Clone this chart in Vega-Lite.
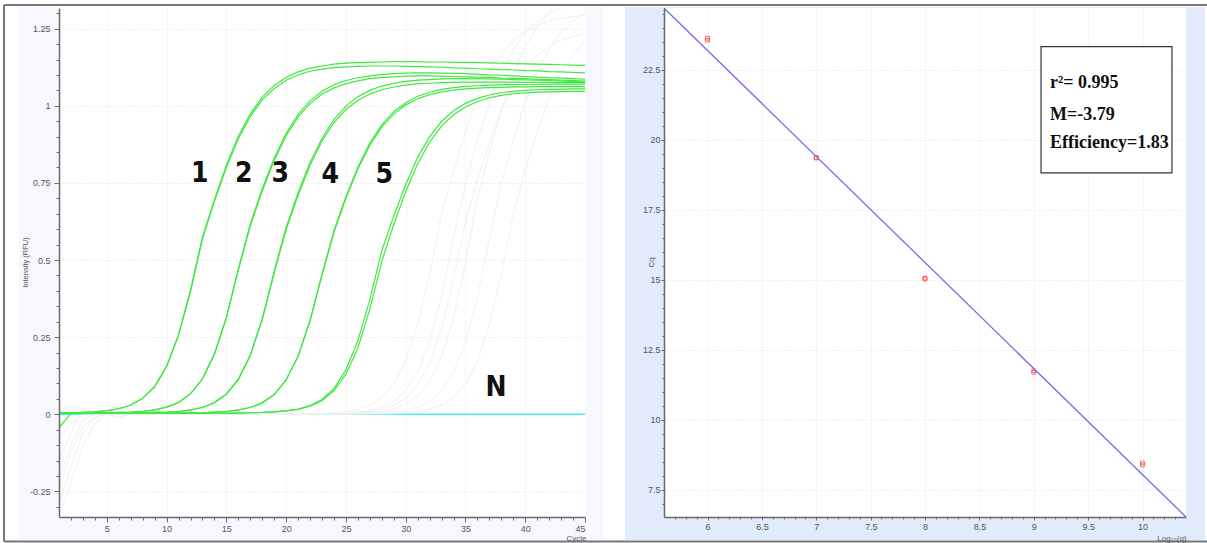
{
"$schema": "https://vega.github.io/schema/vega-lite/v6.json",
"padding": {"left": 3, "top": 4, "right": 0, "bottom": 0},
"background": "white",
"bounds": "flush",
"spacing": 79,
"config": {
 "view": {"stroke": null},
 "axis": {"labelFont": "Liberation Sans", "labelFontSize": 9, "labelColor": "#555555", "titleFont": "Liberation Sans", "titleFontSize": 8, "titleFontWeight": "normal", "titleColor": "#555555", "domainColor": "#6a6a6a", "domainWidth": 1.5, "tickColor": "#6a6a6a", "gridColor": "#e2e2e2", "gridDash": [1, 2]}
},
"datasets": {
 "one": [{}],
 "amp": [
  {"cycle":1,"G1a":0.005,"G1b":-0.043,"G2a":0.004,"G2b":0.004,"G3a":0.004,"G3b":0.004,"G4a":0.004,"G4b":0.004,"G5a":0.004,"G5b":0.004,"F1":-0.29,"F2":-0.21,"F3":-0.15,"F4":-0.33,"F5":-0.08,"F6":-0.25,"N":0},
  {"cycle":2,"G1a":0.005,"G1b":0.002,"G2a":0.004,"G2b":0.004,"G3a":0.004,"G3b":0.004,"G4a":0.004,"G4b":0.004,"G5a":0.004,"G5b":0.004,"F1":-0.17,"F2":-0.10,"F3":-0.06,"F4":-0.22,"F5":-0.03,"F6":-0.12,"N":0},
  {"cycle":3,"G1a":0.006,"G1b":0.006,"G2a":0.004,"G2b":0.004,"G3a":0.004,"G3b":0.004,"G4a":0.004,"G4b":0.004,"G5a":0.004,"G5b":0.004,"F1":-0.06,"F2":-0.02,"F3":0.02,"F4":-0.10,"F5":0,"F6":-0.04,"N":0},
  {"cycle":4,"G1a":0.008,"G1b":0.008,"G2a":0.004,"G2b":0.004,"G3a":0.004,"G3b":0.004,"G4a":0.004,"G4b":0.004,"G5a":0.004,"G5b":0.004,"F1":-0.01,"F2":0,"F3":0.005,"F4":-0.03,"F5":0.001,"F6":-0.01,"N":0},
  {"cycle":5,"G1a":0.012,"G1b":0.012,"G2a":0.005,"G2b":0.005,"G3a":0.004,"G3b":0.004,"G4a":0.004,"G4b":0.004,"G5a":0.004,"G5b":0.004,"F1":0,"F2":0.001,"F3":0.001,"F4":0,"F5":0.001,"F6":0.001,"N":0},
  {"cycle":6,"G1a":0.018,"G1b":0.018,"G2a":0.006,"G2b":0.006,"G3a":0.004,"G3b":0.004,"G4a":0.004,"G4b":0.004,"G5a":0.004,"G5b":0.004,"F1":-0.01,"F2":0.001,"F3":0.001,"F4":0.001,"F5":0.001,"F6":0.001,"N":0},
  {"cycle":7,"G1a":0.030,"G1b":0.030,"G2a":0.007,"G2b":0.007,"G3a":0.004,"G3b":0.004,"G4a":0.004,"G4b":0.004,"G5a":0.004,"G5b":0.004,"F1":0,"F2":0.001,"F3":0.001,"F4":0.001,"F5":0.001,"F6":0.001,"N":0},
  {"cycle":8,"G1a":0.052,"G1b":0.052,"G2a":0.009,"G2b":0.009,"G3a":0.005,"G3b":0.005,"G4a":0.004,"G4b":0.004,"G5a":0.004,"G5b":0.004,"F1":0.001,"F2":0.001,"F3":0.001,"F4":0.001,"F5":0.001,"F6":0.001,"N":0},
  {"cycle":9,"G1a":0.090,"G1b":0.089,"G2a":0.014,"G2b":0.014,"G3a":0.006,"G3b":0.006,"G4a":0.004,"G4b":0.004,"G5a":0.004,"G5b":0.004,"F1":0.001,"F2":0.001,"F3":0.001,"F4":0.001,"F5":0.001,"F6":0.001,"N":0},
  {"cycle":10,"G1a":0.156,"G1b":0.154,"G2a":0.023,"G2b":0.023,"G3a":0.007,"G3b":0.007,"G4a":0.004,"G4b":0.004,"G5a":0.004,"G5b":0.004,"F1":0.001,"F2":0.001,"F3":0.001,"F4":0.001,"F5":0.001,"F6":0.001,"N":0},
  {"cycle":11,"G1a":0.258,"G1b":0.256,"G2a":0.038,"G2b":0.038,"G3a":0.009,"G3b":0.009,"G4a":0.004,"G4b":0.004,"G5a":0.004,"G5b":0.004,"F1":0.001,"F2":0.001,"F3":0.001,"F4":0.001,"F5":0.001,"F6":0.001,"N":0},
  {"cycle":12,"G1a":0.402,"G1b":0.398,"G2a":0.067,"G2b":0.066,"G3a":0.014,"G3b":0.014,"G4a":0.004,"G4b":0.004,"G5a":0.004,"G5b":0.004,"F1":0.001,"F2":0.001,"F3":0.001,"F4":0.001,"F5":0.001,"F6":0.001,"N":0},
  {"cycle":13,"G1a":0.574,"G1b":0.569,"G2a":0.115,"G2b":0.114,"G3a":0.022,"G3b":0.022,"G4a":0.005,"G4b":0.005,"G5a":0.004,"G5b":0.004,"F1":0.001,"F2":0.001,"F3":0.001,"F4":0.001,"F5":0.001,"F6":0.001,"N":0},
  {"cycle":14,"G1a":0.696,"G1b":0.690,"G2a":0.196,"G2b":0.194,"G3a":0.038,"G3b":0.037,"G4a":0.007,"G4b":0.007,"G5a":0.004,"G5b":0.004,"F1":0.001,"F2":0.001,"F3":0.001,"F4":0.001,"F5":0.001,"F6":0.001,"N":0},
  {"cycle":15,"G1a":0.807,"G1b":0.800,"G2a":0.315,"G2b":0.312,"G3a":0.066,"G3b":0.065,"G4a":0.009,"G4b":0.009,"G5a":0.004,"G5b":0.004,"F1":0.001,"F2":0.001,"F3":0.001,"F4":0.001,"F5":0.001,"F6":0.001,"N":0},
  {"cycle":16,"G1a":0.901,"G1b":0.893,"G2a":0.471,"G2b":0.467,"G3a":0.114,"G3b":0.112,"G4a":0.014,"G4b":0.014,"G5a":0.004,"G5b":0.004,"F1":0.001,"F2":0.001,"F3":0.001,"F4":0.001,"F5":0.001,"F6":0.001,"N":0},
  {"cycle":17,"G1a":0.974,"G1b":0.965,"G2a":0.616,"G2b":0.611,"G3a":0.192,"G3b":0.190,"G4a":0.022,"G4b":0.022,"G5a":0.005,"G5b":0.005,"F1":0.001,"F2":0.001,"F3":0.001,"F4":0.001,"F5":0.001,"F6":0.001,"N":0},
  {"cycle":18,"G1a":1.028,"G1b":1.019,"G2a":0.731,"G2b":0.724,"G3a":0.310,"G3b":0.306,"G4a":0.037,"G4b":0.037,"G5a":0.006,"G5b":0.006,"F1":0.001,"F2":0.001,"F3":0.001,"F4":0.001,"F5":0.001,"F6":0.001,"N":0},
  {"cycle":19,"G1a":1.066,"G1b":1.056,"G2a":0.830,"G2b":0.823,"G3a":0.463,"G3b":0.458,"G4a":0.064,"G4b":0.064,"G5a":0.008,"G5b":0.008,"F1":0.001,"F2":0.001,"F3":0.001,"F4":0.001,"F5":0.001,"F6":0.001,"N":0},
  {"cycle":20,"G1a":1.092,"G1b":1.083,"G2a":0.911,"G2b":0.903,"G3a":0.606,"G3b":0.599,"G4a":0.111,"G4b":0.112,"G5a":0.011,"G5b":0.011,"F1":0.001,"F2":0.001,"F3":0.001,"F4":0.001,"F5":0.001,"F6":0.001,"N":0},
  {"cycle":21,"G1a":1.110,"G1b":1.100,"G2a":0.972,"G2b":0.963,"G3a":0.718,"G3b":0.710,"G4a":0.187,"G4b":0.189,"G5a":0.017,"G5b":0.016,"F1":0.001,"F2":0.001,"F3":0.001,"F4":0.001,"F5":0.001,"F6":0.001,"N":0},
  {"cycle":22,"G1a":1.122,"G1b":1.112,"G2a":1.016,"G2b":1.007,"G3a":0.816,"G3b":0.807,"G4a":0.302,"G4b":0.304,"G5a":0.028,"G5b":0.026,"F1":0.001,"F2":0.001,"F3":0.001,"F4":0.001,"F5":0.001,"F6":0.001,"N":0},
  {"cycle":23,"G1a":1.129,"G1b":1.119,"G2a":1.047,"G2b":1.038,"G3a":0.895,"G3b":0.886,"G4a":0.451,"G4b":0.454,"G5a":0.048,"G5b":0.044,"F1":0.003,"F2":0.001,"F3":0.001,"F4":0.001,"F5":0.001,"F6":0.001,"N":0},
  {"cycle":24,"G1a":1.135,"G1b":1.124,"G2a":1.068,"G2b":1.058,"G3a":0.955,"G3b":0.945,"G4a":0.590,"G4b":0.595,"G5a":0.084,"G5b":0.077,"F1":0.005,"F2":0.002,"F3":0.001,"F4":0.001,"F5":0.001,"F6":0.001,"N":0},
  {"cycle":25,"G1a":1.138,"G1b":1.126,"G2a":1.082,"G2b":1.072,"G3a":0.999,"G3b":0.988,"G4a":0.700,"G4b":0.705,"G5a":0.144,"G5b":0.130,"F1":0.009,"F2":0.004,"F3":0.001,"F4":0.001,"F5":0.001,"F6":0.002,"N":0},
  {"cycle":26,"G1a":1.140,"G1b":1.128,"G2a":1.091,"G2b":1.081,"G3a":1.029,"G3b":1.018,"G4a":0.795,"G4b":0.801,"G5a":0.238,"G5b":0.215,"F1":0.016,"F2":0.007,"F3":0.003,"F4":0.001,"F5":0.001,"F6":0.005,"N":0},
  {"cycle":27,"G1a":1.141,"G1b":1.129,"G2a":1.097,"G2b":1.088,"G3a":1.050,"G3b":1.038,"G4a":0.872,"G4b":0.879,"G5a":0.371,"G5b":0.340,"F1":0.030,"F2":0.012,"F3":0.005,"F4":0.002,"F5":0.001,"F6":0.008,"N":0},
  {"cycle":28,"G1a":1.142,"G1b":1.129,"G2a":1.101,"G2b":1.092,"G3a":1.064,"G3b":1.052,"G4a":0.931,"G4b":0.938,"G5a":0.530,"G5b":0.495,"F1":0.055,"F2":0.023,"F3":0.009,"F4":0.004,"F5":0.001,"F6":0.016,"N":0},
  {"cycle":29,"G1a":1.143,"G1b":1.129,"G2a":1.104,"G2b":1.094,"G3a":1.073,"G3b":1.061,"G4a":0.973,"G4b":0.981,"G5a":0.643,"G5b":0.615,"F1":0.099,"F2":0.042,"F3":0.017,"F4":0.007,"F5":0.002,"F6":0.029,"N":0},
  {"cycle":30,"G1a":1.143,"G1b":1.128,"G2a":1.106,"G2b":1.096,"G3a":1.079,"G3b":1.067,"G4a":1.003,"G4b":1.010,"G5a":0.745,"G5b":0.722,"F1":0.173,"F2":0.077,"F3":0.032,"F4":0.012,"F5":0.005,"F6":0.053,"N":0},
  {"cycle":31,"G1a":1.143,"G1b":1.127,"G2a":1.107,"G2b":1.097,"G3a":1.083,"G3b":1.071,"G4a":1.023,"G4b":1.031,"G5a":0.832,"G5b":0.812,"F1":0.290,"F2":0.136,"F3":0.059,"F4":0.023,"F5":0.009,"F6":0.095,"N":0},
  {"cycle":32,"G1a":1.142,"G1b":1.126,"G2a":1.107,"G2b":1.097,"G3a":1.085,"G3b":1.073,"G4a":1.036,"G4b":1.044,"G5a":0.899,"G5b":0.882,"F1":0.453,"F2":0.234,"F3":0.106,"F4":0.042,"F5":0.016,"F6":0.166,"N":0},
  {"cycle":33,"G1a":1.142,"G1b":1.125,"G2a":1.106,"G2b":1.096,"G3a":1.087,"G3b":1.075,"G4a":1.045,"G4b":1.053,"G5a":0.949,"G5b":0.934,"F1":0.650,"F2":0.380,"F3":0.186,"F4":0.077,"F5":0.030,"F6":0.278,"N":0},
  {"cycle":34,"G1a":1.141,"G1b":1.123,"G2a":1.105,"G2b":1.095,"G3a":1.088,"G3b":1.076,"G4a":1.051,"G4b":1.059,"G5a":0.984,"G5b":0.971,"F1":0.789,"F2":0.570,"F3":0.312,"F4":0.136,"F5":0.055,"F6":0.436,"N":0},
  {"cycle":35,"G1a":1.141,"G1b":1.122,"G2a":1.104,"G2b":1.094,"G3a":1.088,"G3b":1.077,"G4a":1.055,"G4b":1.063,"G5a":1.008,"G5b":0.996,"F1":0.916,"F2":0.748,"F3":0.488,"F4":0.234,"F5":0.099,"F6":0.625,"N":0},
  {"cycle":36,"G1a":1.140,"G1b":1.120,"G2a":1.102,"G2b":1.093,"G3a":1.088,"G3b":1.077,"G4a":1.057,"G4b":1.065,"G5a":1.024,"G5b":1.014,"F1":1.023,"F2":0.888,"F3":0.700,"F4":0.380,"F5":0.173,"F6":0.759,"N":0},
  {"cycle":37,"G1a":1.139,"G1b":1.119,"G2a":1.100,"G2b":1.092,"G3a":1.087,"G3b":1.077,"G4a":1.059,"G4b":1.067,"G5a":1.035,"G5b":1.026,"F1":1.106,"F2":1.010,"F3":0.850,"F4":0.570,"F5":0.290,"F6":0.881,"N":0},
  {"cycle":38,"G1a":1.138,"G1b":1.117,"G2a":1.099,"G2b":1.090,"G3a":1.086,"G3b":1.077,"G4a":1.060,"G4b":1.068,"G5a":1.043,"G5b":1.034,"F1":1.167,"F2":1.108,"F3":0.987,"F4":0.748,"F5":0.453,"F6":0.983,"N":0},
  {"cycle":39,"G1a":1.137,"G1b":1.116,"G2a":1.097,"G2b":1.089,"G3a":1.085,"G3b":1.077,"G4a":1.061,"G4b":1.069,"G5a":1.047,"G5b":1.039,"F1":1.211,"F2":1.183,"F3":1.101,"F4":0.888,"F5":0.650,"F6":1.063,"N":0},
  {"cycle":40,"G1a":1.136,"G1b":1.114,"G2a":1.095,"G2b":1.088,"G3a":1.084,"G3b":1.076,"G4a":1.061,"G4b":1.069,"G5a":1.050,"G5b":1.042,"F1":1.241,"F2":1.237,"F3":1.191,"F4":1.010,"F5":0.789,"F6":1.122,"N":0},
  {"cycle":41,"G1a":1.135,"G1b":1.113,"G2a":1.093,"G2b":1.086,"G3a":1.083,"G3b":1.076,"G4a":1.062,"G4b":1.069,"G5a":1.052,"G5b":1.044,"F1":1.261,"F2":1.274,"F3":1.257,"F4":1.108,"F5":0.916,"F6":1.164,"N":0},
  {"cycle":42,"G1a":1.134,"G1b":1.111,"G2a":1.091,"G2b":1.085,"G3a":1.082,"G3b":1.076,"G4a":1.062,"G4b":1.070,"G5a":1.053,"G5b":1.045,"F1":1.275,"F2":1.300,"F3":1.304,"F4":1.183,"F5":1.023,"F6":1.193,"N":0},
  {"cycle":43,"G1a":1.133,"G1b":1.110,"G2a":1.090,"G2b":1.083,"G3a":1.080,"G3b":1.075,"G4a":1.062,"G4b":1.070,"G5a":1.054,"G5b":1.046,"F1":1.283,"F2":1.317,"F3":1.336,"F4":1.237,"F5":1.106,"F6":1.213,"N":0},
  {"cycle":44,"G1a":1.132,"G1b":1.108,"G2a":1.088,"G2b":1.082,"G3a":1.079,"G3b":1.075,"G4a":1.062,"G4b":1.070,"G5a":1.055,"G5b":1.047,"F1":1.289,"F2":1.329,"F3":1.358,"F4":1.274,"F5":1.167,"F6":1.225,"N":0},
  {"cycle":45,"G1a":1.131,"G1b":1.107,"G2a":1.086,"G2b":1.080,"G3a":1.078,"G3b":1.075,"G4a":1.062,"G4b":1.070,"G5a":1.055,"G5b":1.047,"F1":1.293,"F2":1.336,"F3":1.373,"F4":1.300,"F5":1.211,"F6":1.234,"N":0}
 ],
 "curveLabels": [
  {"cycle":12.77,"value":0.778,"label":"1"},
  {"cycle":16.45,"value":0.778,"label":"2"},
  {"cycle":19.5,"value":0.778,"label":"3"},
  {"cycle":23.7,"value":0.776,"label":"4"},
  {"cycle":28.2,"value":0.776,"label":"5"},
  {"cycle":37.55,"value":0.084,"label":"N"}
 ],
 "std": [
  {"log":6,"cq":23.63},{"log":6,"cq":23.56},
  {"log":7,"cq":19.37},{"log":7,"cq":19.35},
  {"log":8,"cq":15.06},{"log":8,"cq":15.03},
  {"log":9,"cq":11.75},{"log":9,"cq":11.70},
  {"log":10,"cq":8.46},{"log":10,"cq":8.39}
 ],
 "fit": [{"log":5.6,"cq":24.71},{"log":10.4,"cq":6.53}],
 "stats": [
  {"log":9.149,"cq":22.02,"text":"r²= 0.995"},
  {"log":9.149,"cq":20.89,"text":"M=-3.79"},
  {"log":9.149,"cq":19.88,"text":"Efficiency=1.83"}
 ]
},
"hconcat": [
 {
  "width": 526, "height": 509,
  "resolve": {"axis": {"x": "independent", "y": "independent"}},
  "layer": [
   {"data": {"name": "one"}, "mark": {"type": "rect", "fill": "#f6f8fe", "clip": false},
    "encoding": {"x": {"datum": -2.346, "type": "quantitative", "scale": {"domain": [1, 45], "nice": false, "zero": false}, "axis": null}, "x2": {"datum": 1},
                 "y": {"datum": 1.3202, "type": "quantitative", "scale": {"domain": [-0.333, 1.317], "nice": false, "zero": false}, "axis": null}, "y2": {"datum": -0.4076}}},
   {"data": {"name": "one"}, "mark": {"type": "rect", "fill": "#f6f8fe", "clip": false},
    "encoding": {"x": {"datum": 45, "type": "quantitative", "scale": {"domain": [1, 45], "nice": false, "zero": false}, "axis": null}, "x2": {"datum": 46.5},
                 "y": {"datum": 1.3202, "type": "quantitative", "scale": {"domain": [-0.333, 1.317], "nice": false, "zero": false}, "axis": null}, "y2": {"datum": -0.4076}}},
   {"data": {"name": "one"}, "mark": {"type": "rect", "fill": "#f6f8fe", "clip": false},
    "encoding": {"x": {"datum": 1, "type": "quantitative", "scale": {"domain": [1, 45], "nice": false, "zero": false}, "axis": null}, "x2": {"datum": 45},
                 "y": {"datum": -0.333, "type": "quantitative", "scale": {"domain": [-0.333, 1.317], "nice": false, "zero": false}, "axis": null}, "y2": {"datum": -0.4076}}},
   {"data": {"name": "amp"},
    "mark": {"type": "line", "color": "#3ff3f3", "strokeWidth": 1.5, "clip": true},
    "encoding": {
      "x": {"field": "cycle", "type": "quantitative", "scale": {"domain": [1, 45], "nice": false, "zero": false},
            "axis": {"orient": "bottom", "values": [5,10,15,20,25,30,35,40], "grid": true, "ticks": false, "labels": false, "domain": false, "title": null, "zindex": 0}},
      "y": {"field": "N", "type": "quantitative", "scale": {"domain": [-0.333, 1.317], "nice": false, "zero": false},
            "axis": {"orient": "left", "values": [-0.25,0,0.25,0.5,0.75,1,1.25], "grid": true, "ticks": false, "labels": false, "domain": false, "title": null, "zindex": 0}}}},
   {"data": {"name": "amp"},
    "transform": [{"fold": ["F1","F2","F3","F4","F5","F6"], "as": ["series", "value"]}],
    "mark": {"type": "line", "color": "#efefef", "strokeWidth": 1, "clip": true},
    "encoding": {
      "x": {"field": "cycle", "type": "quantitative", "scale": {"domain": [1, 45], "nice": false, "zero": false},
            "axis": {"orient": "bottom", "values": [2,3,4,6,7,8,9,11,12,13,14,16,17,18,19,21,22,23,24,26,27,28,29,31,32,33,34,36,37,38,39,41,42,43,44], "grid": false, "ticks": true, "tickSize": 3, "labels": false, "domain": false, "title": null, "zindex": 1}},
      "y": {"field": "value", "type": "quantitative", "scale": {"domain": [-0.333, 1.317], "nice": false, "zero": false},
            "axis": {"orient": "left", "values": [-0.3,-0.2,-0.15,-0.1,-0.05,0.05,0.1,0.15,0.2,0.3,0.35,0.4,0.45,0.55,0.6,0.65,0.7,0.8,0.85,0.9,0.95,1.05,1.1,1.15,1.2,1.3], "grid": false, "ticks": true, "tickSize": 3, "labels": false, "domain": false, "title": null, "zindex": 1}},
      "detail": {"field": "series"}}},
   {"data": {"name": "amp"},
    "transform": [{"fold": ["G1a","G1b","G2a","G2b","G3a","G3b","G4a","G4b","G5a","G5b"], "as": ["series", "value"]}],
    "mark": {"type": "line", "color": "#40e840", "strokeWidth": 1.2, "clip": true},
    "encoding": {
      "x": {"field": "cycle", "type": "quantitative", "scale": {"domain": [1, 45], "nice": false, "zero": false},
            "axis": {"orient": "bottom", "values": [5,10,15,20,25,30,35,40,45], "grid": false, "tickSize": 5, "labelPadding": 2, "title": "Cycle", "titleX": 527, "titleY": 21, "titleAlign": "right", "titleBaseline": "middle", "zindex": 1}},
      "y": {"field": "value", "type": "quantitative", "scale": {"domain": [-0.333, 1.317], "nice": false, "zero": false},
            "axis": {"orient": "left", "values": [-0.25,0,0.25,0.5,0.75,1,1.25], "labelExpr": "'' + datum.value", "grid": false, "tickSize": 5, "labelPadding": 4, "title": "Intensity (RFU)", "titleX": -34, "titleY": 254, "titleAngle": -90, "titleAlign": "center", "titleBaseline": "middle", "titleFontSize": 7.5, "zindex": 1}},
      "detail": {"field": "series"}}},
   {"data": {"name": "curveLabels"},
    "mark": {"type": "text", "font": "Liberation Sans Narrow, DejaVu Sans Condensed, Open Sans", "fontSize": 28, "fontWeight": "bold", "color": "#111111", "align": "center", "baseline": "middle"},
    "encoding": {
      "x": {"field": "cycle", "type": "quantitative", "scale": {"domain": [1, 45], "nice": false, "zero": false}, "axis": null},
      "y": {"field": "value", "type": "quantitative", "scale": {"domain": [-0.333, 1.317], "nice": false, "zero": false}, "axis": null},
      "text": {"field": "label"}}},
   {"data": {"name": "one"}, "mark": {"type": "rule", "color": "#777777", "strokeWidth": 2, "clip": false},
    "encoding": {"x": {"datum": -3.6, "type": "quantitative", "scale": {"domain": [1, 45], "nice": false, "zero": false}, "axis": null}, "x2": {"datum": 47.42},
                 "y": {"datum": 1.3267, "type": "quantitative", "scale": {"domain": [-0.333, 1.317], "nice": false, "zero": false}, "axis": null}}},
   {"data": {"name": "one"}, "mark": {"type": "rule", "color": "#777777", "strokeWidth": 2, "clip": false},
    "encoding": {"x": {"datum": -3.6, "type": "quantitative", "scale": {"domain": [1, 45], "nice": false, "zero": false}, "axis": null}, "x2": {"datum": 47.42},
                 "y": {"datum": -0.4124, "type": "quantitative", "scale": {"domain": [-0.333, 1.317], "nice": false, "zero": false}, "axis": null}}},
   {"data": {"name": "one"}, "mark": {"type": "rule", "color": "#777777", "strokeWidth": 2, "clip": false},
    "encoding": {"x": {"datum": -3.6, "type": "quantitative", "scale": {"domain": [1, 45], "nice": false, "zero": false}, "axis": null},
                 "y": {"datum": 1.3267, "type": "quantitative", "scale": {"domain": [-0.333, 1.317], "nice": false, "zero": false}, "axis": null}, "y2": {"datum": -0.4124}}}
  ]
 },
 {
  "width": 522, "height": 509,
  "resolve": {"axis": {"x": "independent", "y": "independent"}},
  "layer": [
   {"data": {"name": "one"}, "mark": {"type": "rect", "fill": "#e1ebfb", "clip": false},
    "encoding": {"x": {"datum": 5.2414, "type": "quantitative", "scale": {"domain": [5.6, 10.4], "nice": false, "zero": false}, "axis": null}, "x2": {"datum": 5.6},
                 "y": {"datum": 24.746, "type": "quantitative", "scale": {"domain": [6.53, 24.71], "nice": false, "zero": false}, "axis": null}, "y2": {"datum": 5.71}}},
   {"data": {"name": "one"}, "mark": {"type": "rect", "fill": "#e1ebfb", "clip": false},
    "encoding": {"x": {"datum": 10.4, "type": "quantitative", "scale": {"domain": [5.6, 10.4], "nice": false, "zero": false}, "axis": null}, "x2": {"datum": 10.5747},
                 "y": {"datum": 24.746, "type": "quantitative", "scale": {"domain": [6.53, 24.71], "nice": false, "zero": false}, "axis": null}, "y2": {"datum": 5.71}}},
   {"data": {"name": "one"}, "mark": {"type": "rect", "fill": "#e1ebfb", "clip": false},
    "encoding": {"x": {"datum": 5.6, "type": "quantitative", "scale": {"domain": [5.6, 10.4], "nice": false, "zero": false}, "axis": null}, "x2": {"datum": 10.4},
                 "y": {"datum": 6.53, "type": "quantitative", "scale": {"domain": [6.53, 24.71], "nice": false, "zero": false}, "axis": null}, "y2": {"datum": 5.71}}},
   {"data": {"name": "one"}, "mark": {"type": "rect", "fill": "#e1ebfb", "clip": false},
    "encoding": {"x": {"datum": 5.6, "type": "quantitative", "scale": {"domain": [5.6, 10.4], "nice": false, "zero": false}, "axis": null}, "x2": {"datum": 10.4},
                 "y": {"datum": 24.71, "type": "quantitative", "scale": {"domain": [6.53, 24.71], "nice": false, "zero": false}, "axis": null}, "y2": {"datum": 24.746}}},
   {"data": {"name": "std"},
    "mark": {"type": "point", "shape": "square", "size": 14, "filled": false, "color": "#ff3030", "strokeWidth": 1},
    "encoding": {
      "x": {"field": "log", "type": "quantitative", "scale": {"domain": [5.6, 10.4], "nice": false, "zero": false},
            "axis": {"orient": "bottom", "values": [6,6.5,7,7.5,8,8.5,9,9.5,10], "grid": true, "ticks": false, "labels": false, "domain": false, "title": null, "zindex": 0}},
      "y": {"field": "cq", "type": "quantitative", "scale": {"domain": [6.53, 24.71], "nice": false, "zero": false},
            "axis": {"orient": "left", "values": [7.5,10,12.5,15,17.5,20,22.5], "grid": true, "ticks": false, "labels": false, "domain": false, "title": null, "zindex": 0}}}},
   {"data": {"name": "fit"},
    "mark": {"type": "line", "color": "#6f6fe8", "strokeWidth": 1.3, "clip": true},
    "encoding": {
      "x": {"field": "log", "type": "quantitative", "scale": {"domain": [5.6, 10.4], "nice": false, "zero": false},
            "axis": {"orient": "bottom", "values": [6,6.5,7,7.5,8,8.5,9,9.5,10], "labelExpr": "'' + datum.value", "grid": false, "tickSize": 3, "labelPadding": 2, "title": "Log₁₀(q)", "titleX": 522, "titleY": 21, "titleAlign": "right", "titleBaseline": "middle", "zindex": 1}},
      "y": {"field": "cq", "type": "quantitative", "scale": {"domain": [6.53, 24.71], "nice": false, "zero": false},
            "axis": {"orient": "left", "values": [7.5,10,12.5,15,17.5,20,22.5], "labelExpr": "'' + datum.value", "grid": false, "tickSize": 3, "labelPadding": 1, "title": "Cq", "titleX": -13, "titleY": 254, "titleAngle": -90, "titleAlign": "center", "titleBaseline": "middle", "zindex": 1}}}},
   {"data": {"name": "one"}, "mark": {"type": "rect", "fill": "white", "stroke": "#333333", "strokeWidth": 1.2},
    "encoding": {"x": {"datum": 9.067, "type": "quantitative", "scale": {"domain": [5.6, 10.4], "nice": false, "zero": false}, "axis": null}, "x2": {"datum": 10.271},
                 "y": {"datum": 23.33, "type": "quantitative", "scale": {"domain": [6.53, 24.71], "nice": false, "zero": false}, "axis": null}, "y2": {"datum": 18.82}}},
   {"data": {"name": "stats"},
    "mark": {"type": "text", "font": "Liberation Serif", "fontWeight": "bold", "fontSize": 18, "color": "#111111", "align": "left", "baseline": "middle"},
    "encoding": {
      "x": {"field": "log", "type": "quantitative", "scale": {"domain": [5.6, 10.4], "nice": false, "zero": false},
            "axis": {"orient": "bottom", "values": [5.7,5.8,5.9,6.1,6.2,6.3,6.4,6.6,6.7,6.8,6.9,7.1,7.2,7.3,7.4,7.6,7.7,7.8,7.9,8.1,8.2,8.3,8.4,8.6,8.7,8.8,8.9,9.1,9.2,9.3,9.4,9.6,9.7,9.8,9.9,10.1,10.2,10.3], "grid": false, "ticks": true, "tickSize": 2, "labels": false, "domain": false, "title": null, "zindex": 1}},
      "y": {"field": "cq", "type": "quantitative", "scale": {"domain": [6.53, 24.71], "nice": false, "zero": false},
            "axis": {"orient": "left", "values": [7,8,8.5,9,9.5,10.5,11,11.5,12,13,13.5,14,14.5,15.5,16,16.5,17,18,18.5,19,19.5,20.5,21,21.5,22,23,23.5,24,24.5], "grid": false, "ticks": true, "tickSize": 2, "labels": false, "domain": false, "title": null, "zindex": 1}},
      "text": {"field": "text"}}},
   {"data": {"name": "one"}, "mark": {"type": "rule", "color": "#777777", "strokeWidth": 2, "clip": false},
    "encoding": {"x": {"datum": 5.14, "type": "quantitative", "scale": {"domain": [5.6, 10.4], "nice": false, "zero": false}, "axis": null}, "x2": {"datum": 10.593},
                 "y": {"datum": 24.817, "type": "quantitative", "scale": {"domain": [6.53, 24.71], "nice": false, "zero": false}, "axis": null}}},
   {"data": {"name": "one"}, "mark": {"type": "rule", "color": "#777777", "strokeWidth": 2, "clip": false},
    "encoding": {"x": {"datum": 5.14, "type": "quantitative", "scale": {"domain": [5.6, 10.4], "nice": false, "zero": false}, "axis": null}, "x2": {"datum": 10.593},
                 "y": {"datum": 5.657, "type": "quantitative", "scale": {"domain": [6.53, 24.71], "nice": false, "zero": false}, "axis": null}}}
  ]
 }
]
}
